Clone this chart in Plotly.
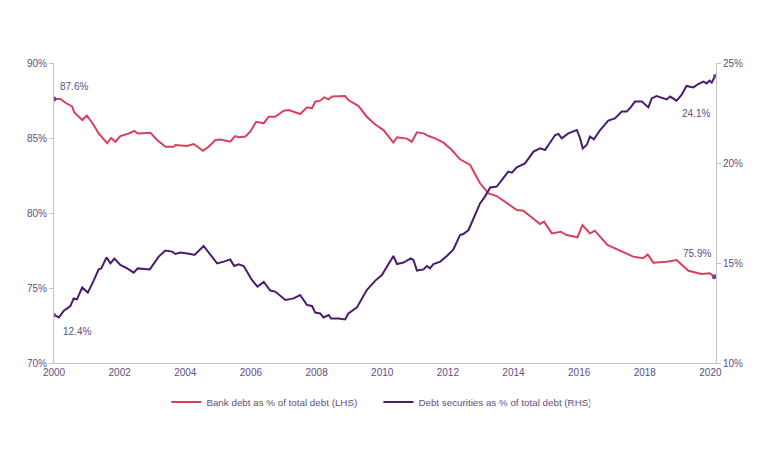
import plotly.graph_objects as go

# Bank debt as % of total debt (LHS)
bank_years = [2000.0, 2000.2, 2000.35, 2000.55, 2000.62, 2000.86, 2001.0, 2001.2, 2001.36, 2001.62,
              2001.74, 2001.87, 2002.02, 2002.28, 2002.45, 2002.55, 2002.94, 2003.14, 2003.4, 2003.65,
              2003.7, 2004.05, 2004.26, 2004.54, 2004.71, 2004.92, 2005.07, 2005.37, 2005.52, 2005.63,
              2005.83, 2005.98, 2006.16, 2006.39, 2006.54, 2006.74, 2007.0, 2007.15, 2007.5, 2007.71,
              2007.86, 2007.96, 2008.11, 2008.23, 2008.37, 2008.47, 2008.87, 2008.97, 2009.28, 2009.53,
              2009.79, 2010.04, 2010.34, 2010.45, 2010.75, 2010.9, 2011.06, 2011.26, 2011.41, 2011.61,
              2011.87, 2012.12, 2012.37, 2012.68, 2012.98, 2013.24, 2013.49, 2013.9, 2014.1, 2014.3,
              2014.56, 2014.81, 2014.93, 2015.17, 2015.44, 2015.62, 2015.95, 2016.1, 2016.33, 2016.48,
              2016.86, 2017.34, 2017.65, 2017.95, 2018.09, 2018.26, 2018.67, 2018.97, 2019.09, 2019.33,
              2019.73, 2019.98, 2020.12]
bank_values = [87.6, 87.6, 87.35, 87.1, 86.7, 86.2, 86.5, 85.9, 85.3, 84.65,
               85.0, 84.75, 85.13, 85.3, 85.47, 85.3, 85.35, 84.87, 84.42, 84.42,
               84.53, 84.47, 84.6, 84.15, 84.42, 84.87, 84.9, 84.75, 85.13, 85.05,
               85.1, 85.42, 86.08, 85.98, 86.42, 86.42, 86.82, 86.87, 86.6, 87.05,
               86.98, 87.42, 87.49, 87.71, 87.58, 87.76, 87.8, 87.53, 87.13, 86.42,
               85.9, 85.53, 84.69, 85.05, 84.96, 84.75, 85.38, 85.31, 85.13, 84.98,
               84.69, 84.2, 83.58, 83.2, 81.98, 81.31, 81.13, 80.47, 80.2, 80.15,
               79.71, 79.27, 79.42, 78.64, 78.75, 78.53, 78.38, 79.2, 78.64, 78.82,
               77.87, 77.42, 77.09, 76.98, 77.24, 76.69, 76.75, 76.87, 76.64, 76.15,
               75.93, 75.98, 75.75]

# Debt securities as % of total debt (RHS)
sec_years = [2000.0, 2000.15, 2000.3, 2000.5, 2000.6, 2000.7, 2000.86, 2001.03, 2001.21, 2001.36,
             2001.44, 2001.6, 2001.72, 2001.84, 2002.02, 2002.23, 2002.43, 2002.55, 2002.92, 2003.04,
             2003.19, 2003.39, 2003.6, 2003.7, 2003.85, 2004.16, 2004.28, 2004.56, 2004.76, 2004.97,
             2005.17, 2005.37, 2005.49, 2005.63, 2005.78, 2006.03, 2006.2, 2006.39, 2006.59, 2006.74,
             2007.05, 2007.3, 2007.5, 2007.71, 2007.86, 2007.96, 2008.11, 2008.21, 2008.37, 2008.44,
             2008.67, 2008.87, 2008.97, 2009.23, 2009.53, 2009.79, 2009.99, 2010.19, 2010.34, 2010.45,
             2010.65, 2010.87, 2010.95, 2011.06, 2011.26, 2011.36, 2011.46, 2011.56, 2011.77, 2011.97,
             2012.17, 2012.37, 2012.47, 2012.63, 2012.78, 2012.98, 2013.13, 2013.29, 2013.49, 2013.69,
             2013.84, 2013.95, 2014.1, 2014.35, 2014.61, 2014.81, 2014.96, 2015.27, 2015.37, 2015.47,
             2015.67, 2015.93, 2016.03, 2016.11, 2016.23, 2016.33, 2016.45, 2016.64, 2016.89, 2017.09,
             2017.3, 2017.45, 2017.57, 2017.7, 2017.91, 2018.11, 2018.21, 2018.36, 2018.51, 2018.67,
             2018.77, 2018.97, 2019.12, 2019.27, 2019.48, 2019.63, 2019.79, 2019.89, 2019.97, 2020.04,
             2020.14]
sec_values = [12.4, 12.28, 12.62, 12.85, 13.23, 13.18, 13.78, 13.52, 14.12, 14.68,
              14.73, 15.28, 14.98, 15.22, 14.9, 14.73, 14.52, 14.73, 14.68, 14.98,
              15.32, 15.62, 15.57, 15.45, 15.52, 15.45, 15.4, 15.85, 15.45, 14.98,
              15.07, 15.18, 14.85, 14.93, 14.85, 14.15, 13.82, 14.05, 13.62, 13.57,
              13.15, 13.23, 13.4, 12.9, 12.85, 12.52, 12.48, 12.28, 12.4, 12.22,
              12.23, 12.18, 12.48, 12.78, 13.65, 14.12, 14.4, 14.98, 15.35, 14.95,
              15.02, 15.23, 15.15, 14.62, 14.68, 14.85, 14.73, 14.95, 15.07, 15.35,
              15.68, 16.4, 16.45, 16.65, 17.25, 17.98, 18.32, 18.78, 18.82, 19.23,
              19.57, 19.52, 19.78, 19.98, 20.57, 20.73, 20.65, 21.4, 21.45, 21.23,
              21.48, 21.65, 21.23, 20.73, 20.9, 21.32, 21.18, 21.65, 22.12, 22.23,
              22.57, 22.57, 22.78, 23.07, 23.07, 22.78, 23.23, 23.35, 23.28, 23.18,
              23.32, 23.12, 23.4, 23.85, 23.78, 23.95, 24.07, 23.98, 24.12, 24.02,
              24.35]

series_names = ["Bank debt as % of total debt (LHS)", "Debt securities as % of total debt (RHS)"]
bank_labels = ["87.6%", "75.9%"]
sec_labels = ["12.4%", "24.1%"]

left_ticks = [70, 75, 80, 85, 90]
right_ticks = [10, 15, 20, 25]
x_ticks = list(range(2000, 2021, 2))

BANK_C = "#d8405e"
SEC_C = "#4a1c6e"
MARK_C = "#6a4c9c"
TEXT_C = "#5d4f7f"
AXIS_C = "#c4c4c4"
FONT = "Liberation Sans, Arial, sans-serif"

fig = go.Figure()
fig.add_trace(go.Scatter(x=bank_years, y=bank_values, mode="lines", name=series_names[0],
                         line=dict(color=BANK_C, width=2), yaxis="y"))
fig.add_trace(go.Scatter(x=sec_years, y=sec_values, mode="lines", name=series_names[1],
                         line=dict(color=SEC_C, width=2), yaxis="y2"))
# endpoint markers
fig.add_trace(go.Scatter(x=[bank_years[0], bank_years[-1]], y=[bank_values[0], bank_values[-1]],
                         mode="markers", marker=dict(color=MARK_C, size=5), showlegend=False,
                         hoverinfo="skip", yaxis="y"))
fig.add_trace(go.Scatter(x=[sec_years[0], sec_years[-1]], y=[sec_values[0], sec_values[-1]],
                         mode="markers", marker=dict(color=MARK_C, size=4), showlegend=False,
                         hoverinfo="skip", yaxis="y2"))

ann_font = dict(family=FONT, size=10, color=TEXT_C)
fig.add_annotation(x=bank_years[0], y=bank_values[0], yref="y", text=bank_labels[0], showarrow=False,
                   xshift=20, yshift=13, font=ann_font)
fig.add_annotation(x=bank_years[-1], y=bank_values[-1], yref="y", text=bank_labels[1], showarrow=False,
                   xshift=-17, yshift=23, font=ann_font)
fig.add_annotation(x=sec_years[0], y=sec_values[0], yref="y2", text=sec_labels[0], showarrow=False,
                   xshift=23, yshift=-16, font=ann_font)
fig.add_annotation(x=sec_years[-1], y=sec_values[-1], yref="y2", text=sec_labels[1], showarrow=False,
                   xshift=-19, yshift=-37, font=ann_font)

tickfont = dict(family=FONT, size=10, color=TEXT_C)
fig.update_layout(
    width=768, height=471,
    margin=dict(l=46, r=60, t=55, b=116),
    paper_bgcolor="white", plot_bgcolor="white",
    font=dict(family=FONT, color=TEXT_C),
    showlegend=True,
    legend=dict(orientation="h", x=0.49, xanchor="center", y=-0.13, yanchor="middle",
                font=dict(family=FONT, size=9.8, color=TEXT_C), itemwidth=30,
                entrywidth=167, entrywidthmode="pixels"),
    xaxis=dict(range=[2000, 2020.17], tickvals=x_ticks, ticktext=[str(v) for v in x_ticks],
               showgrid=False, zeroline=False, showline=True, linecolor=AXIS_C, linewidth=1,
               ticks="", tickfont=tickfont),
    yaxis=dict(range=[70, 90], tickvals=left_ticks, ticktext=[f"{v}%" for v in left_ticks],
               showgrid=False, zeroline=False, showline=True, linecolor=AXIS_C, linewidth=1,
               ticks="outside", ticklen=4, tickcolor=AXIS_C, tickfont=tickfont),
    yaxis2=dict(range=[10, 25], tickvals=right_ticks, ticktext=[f"{v}%" for v in right_ticks],
                overlaying="y", side="right",
                showgrid=False, zeroline=False, showline=True, linecolor=AXIS_C, linewidth=1,
                ticks="outside", ticklen=4, tickcolor=AXIS_C, tickfont=tickfont),
)

fig.write_html("out.html")
